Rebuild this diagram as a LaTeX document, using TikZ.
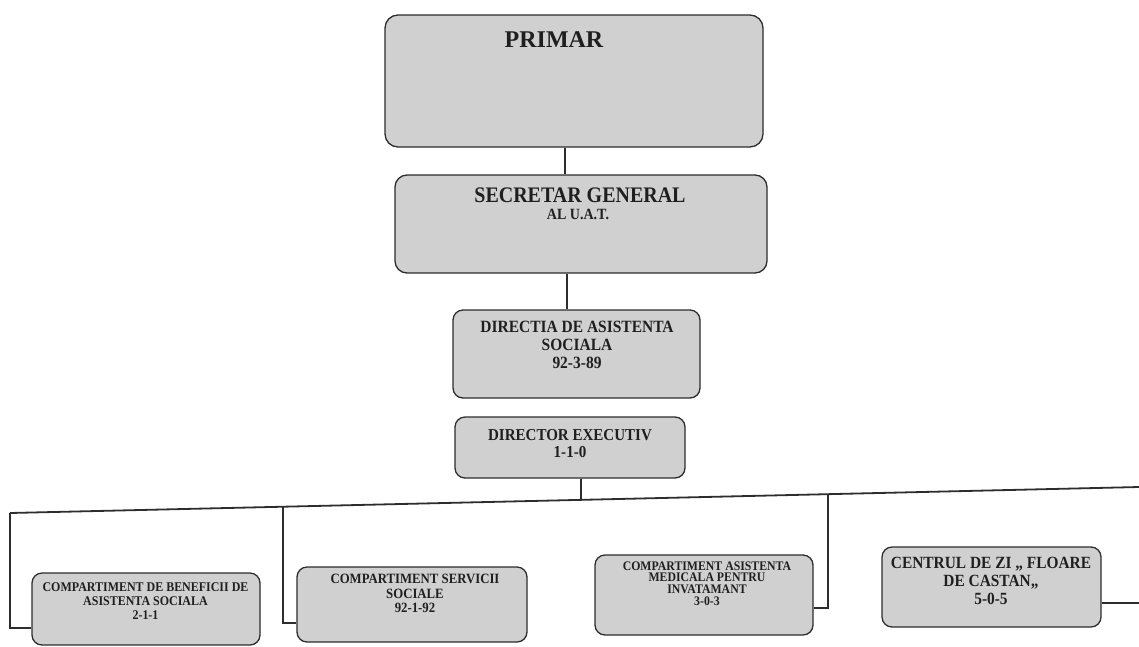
\documentclass[tikz,border=0pt]{standalone}
\usepackage{fontspec}
\setmainfont{Liberation Serif}
\newfontfamily\condfont[FakeStretch=0.9]{Liberation Serif}
\usetikzlibrary{calc}
\definecolor{boxgray}{RGB}{208,208,208}
\definecolor{linegray}{RGB}{45,45,45}
\tikzset{
  orgbox/.style={draw=linegray, line width=1.3pt, fill=boxgray, rounded corners=10pt, inner sep=0pt},
  orgtxt/.style={text=black!88, align=center, inner sep=0pt},
  conn/.style={draw=linegray, line width=1.8pt},
}
\begin{document}
\begin{tikzpicture}[x=1pt,y=-1pt]
\useasboundingbox (0,0) rectangle (1139,646);
% boxes
\node[orgbox, rounded corners=13pt, minimum width=378pt, minimum height=132pt] (p) at (574,81) {};
\node[orgbox, rounded corners=12pt, minimum width=372pt, minimum height=98pt] (s) at (581,224) {};
\node[orgbox, minimum width=247pt, minimum height=88pt] (d) at (576.5,354) {};
\node[orgbox, minimum width=230pt, minimum height=61pt] (e) at (570,447.5) {};
\node[orgbox, minimum width=228pt, minimum height=72pt] (b1) at (146,609) {};
\node[orgbox, minimum width=230pt, minimum height=75pt] (b2) at (412,604.5) {};
\node[orgbox, minimum width=218pt, minimum height=80pt] (b3) at (704,595) {};
\node[orgbox, minimum width=219pt, minimum height=80pt] (b4) at (991.5,587) {};
% texts
\node[orgtxt, font=\fontsize{24}{28}\selectfont\bfseries] (tp) at (554,40) {PRIMAR};
\node[orgtxt, font=\condfont\fontsize{22.2}{26}\selectfont\bfseries] (ts1) at (580,195) {SECRETAR GENERAL};
\node[orgtxt, font=\condfont\fontsize{15.6}{18}\selectfont\bfseries] (ts2) at (578,214) {AL U.A.T.};
\node[orgtxt, font=\condfont\fontsize{17.2}{18}\selectfont\bfseries] (td) at (577,345) {DIRECTIA DE ASISTENTA\\SOCIALA\\92-3-89};
\node[orgtxt, font=\condfont\fontsize{16.7}{17}\selectfont\bfseries] (te) at (570,443.5) {DIRECTOR EXECUTIV\\1-1-0};
\node[orgtxt, font=\condfont\fontsize{13.3}{14}\selectfont\bfseries] (t1) at (145.5,601) {COMPARTIMENT DE BENEFICII DE\\ASISTENTA SOCIALA\\2-1-1};
\node[orgtxt, font=\condfont\fontsize{14.2}{14.5}\selectfont\bfseries] (t2) at (415,593.5) {COMPARTIMENT SERVICII\\SOCIALE\\92-1-92};
\node[orgtxt, font=\condfont\fontsize{13.1}{11.8}\selectfont\bfseries] (t3) at (707,583.5) {COMPARTIMENT ASISTENTA\\MEDICALA PENTRU\\INVATAMANT\\3-0-3};
\node[orgtxt, font=\condfont\fontsize{17.1}{18}\selectfont\bfseries] (t4) at (991,581) {CENTRUL DE ZI „ FLOARE\\DE CASTAN„\\5-0-5};
% connector points
\coordinate (busL) at (10,513);
\coordinate (busR) at (1139,487);
\coordinate (bm) at (581,500);
\coordinate (k1) at (10,513);
\coordinate (k2) at (283,506.7);
\coordinate (k3) at (828,494.2);
\coordinate (r4) at (1139,603);
% connectors
\draw[conn] (p.south -| 565,0) -- (s.north -| 565,0);
\draw[conn] (s.south -| 567,0) -- (d.north -| 567,0);
\draw[conn] (e.south -| bm) -- (bm);
\draw[conn] (busL) -- (busR);
\draw[conn] (k1) |- (b1.west |- 0,628);
\draw[conn] (k2) |- (b2.west |- 0,623);
\draw[conn] (k3) |- (b3.east |- 0,608);
\draw[conn] (b4.east |- 0,603) -- (r4);
\end{tikzpicture}
\end{document}
